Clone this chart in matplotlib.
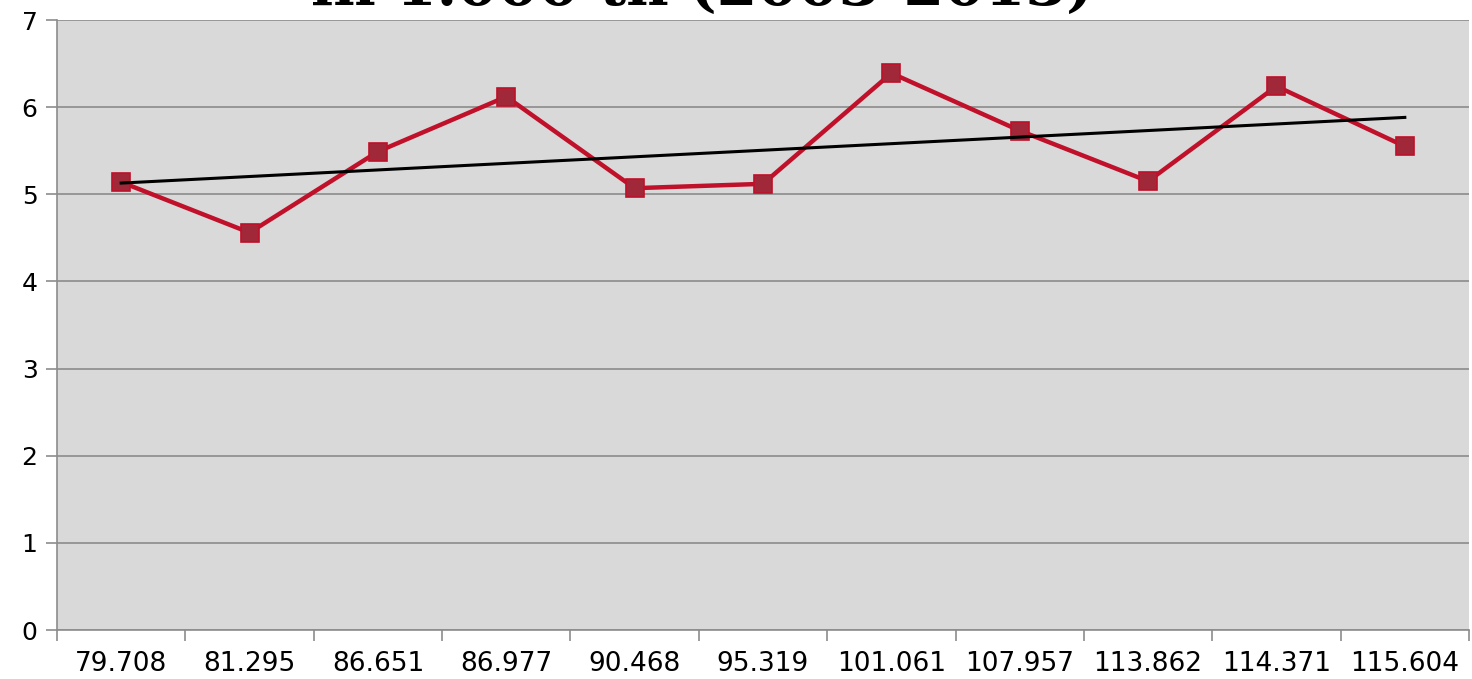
import numpy as np
import matplotlib
matplotlib.use("Agg")
import matplotlib.pyplot as plt

categories = ["79.708", "81.295", "86.651", "86.977", "90.468", "95.319",
              "101.061", "107.957", "113.862", "114.371", "115.604"]
values = [5.14, 4.56, 5.49, 6.12, 5.07, 5.12, 6.39, 5.73, 5.15, 6.24, 5.55]
title = "in 1.000 th (2003-2013)"

x = np.arange(len(categories))
coef = np.polyfit(x, values, 1)
trend = np.polyval(coef, x)

fig = plt.figure(figsize=(14.72, 6.79), dpi=100)
ax = fig.add_axes([57 / 1472, 49 / 679, 1412 / 1472, 610 / 679])
ax.set_facecolor("#d9d9d9")

ax.plot(x, values, color="#c0102a", lw=3.2, marker="s", ms=13,
        mfc="#a02838", mec="#c0102a", mew=1.2, zorder=3)
ax.plot([x[0], x[-1]], [trend[0], trend[-1]], color="black", lw=2.2, zorder=4)

ax.set_xlim(-0.5, len(categories) - 0.5)
ax.set_ylim(0, 7)
ax.set_yticks(range(8))
ax.yaxis.grid(True, color="#8c8c8c", lw=1.2)
ax.set_axisbelow(True)

ax.set_xticks(x)
ax.set_xticklabels(categories)
ax.set_xticks(np.arange(-0.5, len(categories)), minor=True)
ax.tick_params(axis="x", which="major", length=0, pad=15, labelsize=19)
ax.tick_params(axis="x", which="minor", length=8, color="#8c8c8c", width=1.2)
ax.tick_params(axis="y", length=8, color="#8c8c8c", width=1.2, labelsize=18, pad=6)

for s in ["top", "right"]:
    ax.spines[s].set_visible(False)
for s in ["left", "bottom"]:
    ax.spines[s].set_color("#8c8c8c")
    ax.spines[s].set_linewidth(1.2)

# title sits mostly above the canvas, as in the original
fig.text(0.477, 0.992, title, ha="center", va="baseline", fontsize=42,
         fontweight="bold", family="DejaVu Serif")

fig.savefig("out.png", dpi=100)
